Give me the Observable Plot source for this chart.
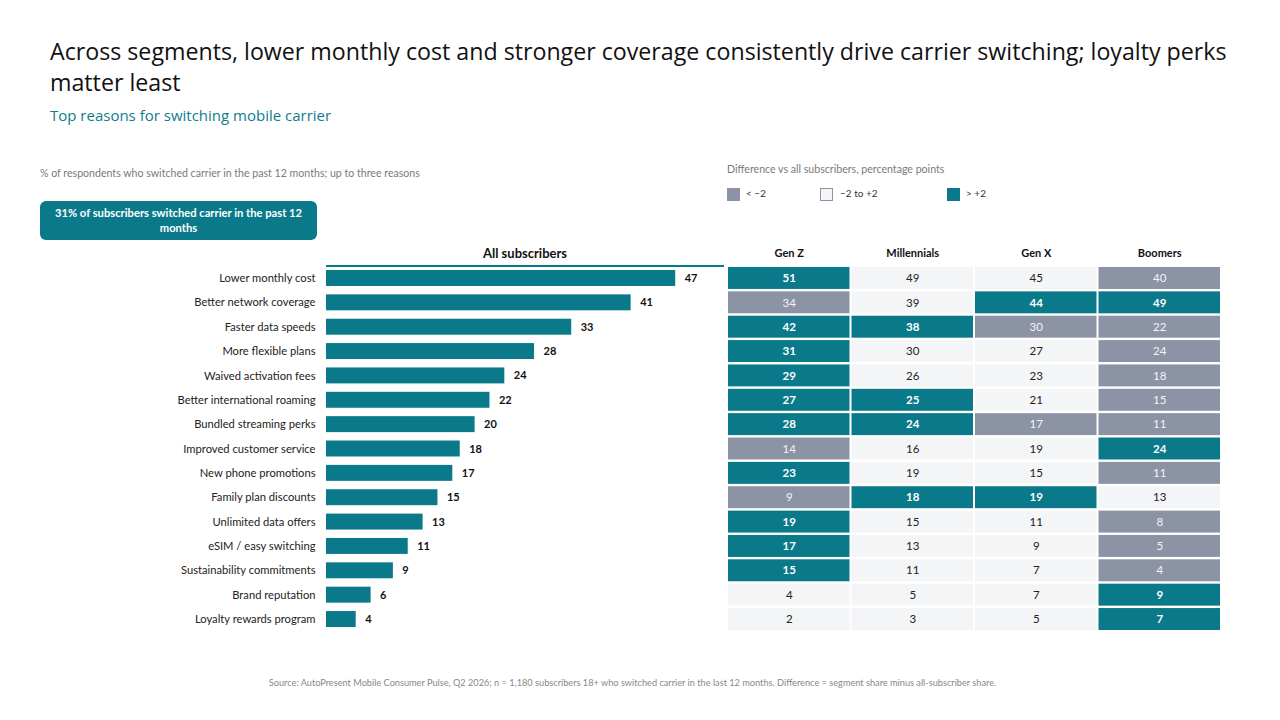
<!DOCTYPE html>
<html><head><meta charset="utf-8">
<script src="https://cdn.jsdelivr.net/npm/d3@7"></script>
<script src="https://cdn.jsdelivr.net/npm/@observablehq/plot@0.6"></script>
<style>
body{margin:0;background:#fff;font-family:"Open Sans",sans-serif;}
#page{position:relative;width:1280px;height:720px;overflow:hidden;background:#fff;}
.abs{position:absolute;}
.sw{position:absolute;width:13px;height:13px;box-sizing:border-box;}
.lg{position:absolute;font-size:10px;color:#333;font-family:Lato,sans-serif;}
</style></head><body><div id="page">
<div class="abs" style="left:50px;top:36px;font-size:23.2px;line-height:31px;color:#111;white-space:nowrap;">Across segments, lower monthly cost and stronger coverage consistently drive carrier switching; loyalty perks<br>matter least</div>
<div class="abs" style="left:50px;top:105px;font-size:15px;color:#0f7d8c;">Top reasons for switching mobile carrier</div>
<div class="abs" style="left:40px;top:167px;font-size:10.6px;color:#7a7a7a;font-family:Lato,sans-serif;">% of respondents who switched carrier in the past 12 months; up to three reasons</div>
<div class="abs" style="left:40px;top:201px;width:277px;height:39px;background:#0a7a8a;border-radius:6px;color:#fff;font-weight:bold;font-size:11.2px;line-height:15px;text-align:center;box-sizing:border-box;padding:4px 12px 0;font-family:Lato,sans-serif;">31% of subscribers switched carrier in the past 12 months</div>
<div class="abs" style="left:727px;top:163px;font-size:10.6px;color:#7a7a7a;font-family:Lato,sans-serif;">Difference vs all subscribers, percentage points</div>
<div class="sw" style="left:727px;top:188px;background:#8c93a5;"></div><div class="lg" style="left:746px;top:187px;">&lt; −2</div>
<div class="sw" style="left:820px;top:188px;background:#f4f5f7;border:1px solid #8c93a5;"></div><div class="lg" style="left:840px;top:187px;">−2 to +2</div>
<div class="sw" style="left:947px;top:188px;background:#0a7a8a;"></div><div class="lg" style="left:966px;top:187px;">&gt; +2</div>
<div class="abs" style="left:326px;width:398px;top:245px;text-align:center;font-weight:bold;font-size:13px;color:#111;font-family:Lato,sans-serif;">All subscribers</div>
<div class="abs" style="left:326px;width:398px;top:265px;height:2px;background:#0a7a8a;"></div>
<div id="bars" class="abs" style="left:0;top:240px;"></div>
<div id="table" class="abs" style="left:727px;top:240px;"></div>
<div class="abs" style="left:0;width:1265px;top:677px;text-align:center;font-size:9.2px;color:#888;font-family:Lato,sans-serif;">Source: AutoPresent Mobile Consumer Pulse, Q2 2026; n = 1,180 subscribers 18+ who switched carrier in the last 12 months. Difference = segment share minus all-subscriber share.</div>
</div>
<script>
const reasons = ["Lower monthly cost","Better network coverage","Faster data speeds","More flexible plans","Waived activation fees","Better international roaming","Bundled streaming perks","Improved customer service","New phone promotions","Family plan discounts","Unlimited data offers","eSIM / easy switching","Sustainability commitments","Brand reputation","Loyalty rewards program"];
const allSubs = [47,41,33,28,24,22,20,18,17,15,13,11,9,6,4];
const segments = ["Gen Z","Millennials","Gen X","Boomers"];
const genZ = [51,34,42,31,29,27,28,14,23,9,19,17,15,4,2];
const millennials = [49,39,38,30,26,25,24,16,19,18,15,13,11,5,3];
const genX = [45,44,30,27,23,21,17,19,15,19,11,9,7,7,5];
const boomers = [40,49,22,24,18,15,11,24,11,13,8,5,4,9,7];

const TEAL = "#0a7a8a", GRAY = "#8c93a5", LIGHT = "#f4f5f7";
const FONT = "Lato, sans-serif";

const barData = reasons.map((r,i)=>({reason:r, value:allSubs[i]}));
const segVals = [genZ, millennials, genX, boomers];
const cells = [];
segments.forEach((s,j)=>reasons.forEach((r,i)=>{
  const v = segVals[j][i], d = v - allSubs[i];
  cells.push({seg:s, reason:r, value:v, cls: d>2 ? "pos" : d<-2 ? "neg" : "neu"});
}));

const H = 400, MT = 25.8, MB = 8.8;
const bars = Plot.plot({
  width: 730, height: H,
  marginLeft: 326, marginRight: 32.5, marginTop: MT, marginBottom: MB,
  style: {fontFamily: FONT, background: "transparent"},
  x: {domain: [0, 50], axis: null},
  y: {domain: reasons, padding: 0, round: false, axis: null},
  marks: [
    Plot.barX(barData, {x: "value", y: "reason", fill: TEAL, insetTop: 4.2, insetBottom: 4.2}),
    Plot.text(barData, {x: "value", y: "reason", text: d => String(d.value), dx: 9, textAnchor: "start", fontWeight: "bold", fontSize: 11, fill: "#111"}),
    Plot.axisY({tickSize: 0, tickPadding: 11, fontSize: 11.2, color: "#222", label: null})
  ]
});
document.getElementById("bars").appendChild(bars);

const textMark = (cls, fill, weight) => Plot.text(cells.filter(c=>c.cls===cls), {x: "seg", y: "reason", text: d => String(d.value), fill, fontWeight: weight, fontSize: 11.5});
const table = Plot.plot({
  width: 494, height: H,
  marginLeft: 0, marginRight: 0, marginTop: MT, marginBottom: MB,
  style: {fontFamily: FONT, background: "transparent"},
  x: {domain: segments, padding: 0, round: false, axis: null},
  y: {domain: reasons, padding: 0, round: false, axis: null},
  color: {type: "ordinal", domain: ["neg","neu","pos"], range: [GRAY, LIGHT, TEAL]},
  marks: [
    Plot.cell(cells, {x: "seg", y: "reason", fill: "cls", insetLeft: 1, insetRight: 1, insetTop: 1.2, insetBottom: 1.2}),
    textMark("pos", "#fff", "bold"),
    textMark("neg", "#f3f4f6", "normal"),
    textMark("neu", "#222", "normal"),
    Plot.axisX({anchor: "top", tickSize: 0, tickPadding: 9, fontSize: 11, fontWeight: "bold", color: "#111", label: null})
  ]
});
document.getElementById("table").appendChild(table);
</script>
</body></html>
